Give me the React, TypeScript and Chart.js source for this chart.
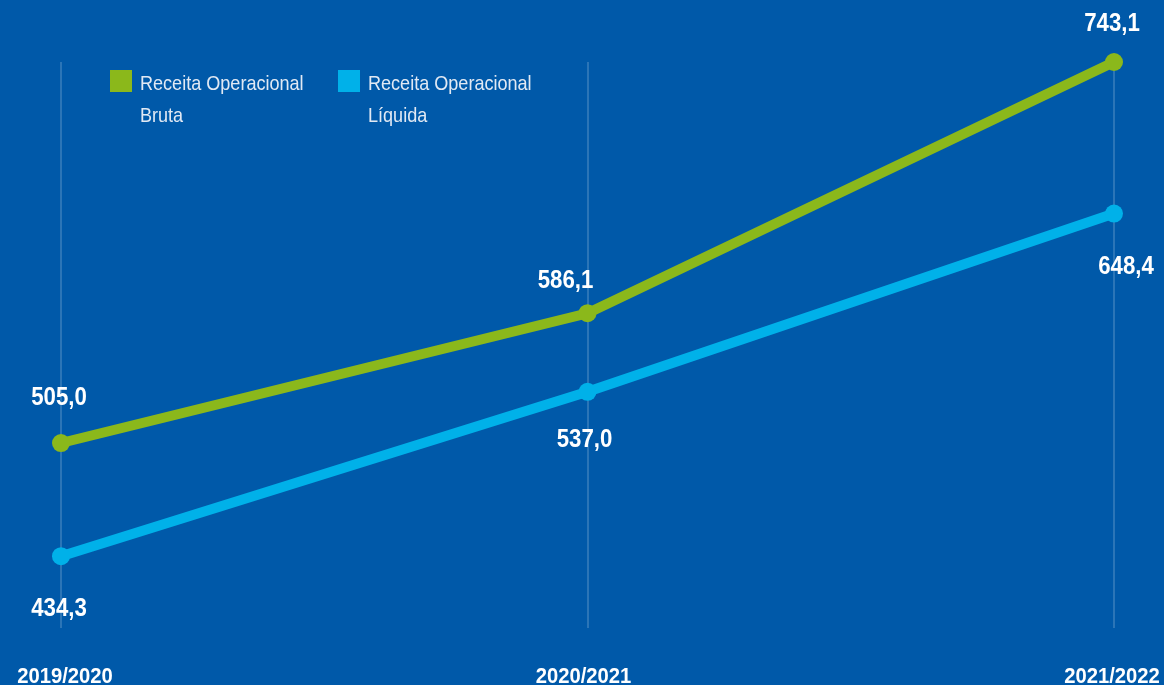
import React, { useEffect, useRef } from "react";
import { Chart, registerables } from "chart.js";

Chart.register(...registerables);

const categories = ["2019/2020", "2020/2021", "2021/2022"];
const brutaValues = [505.0, 586.1, 743.1];
const liquidaValues = [434.3, 537.0, 648.4];
const seriesNames = [["Receita Operacional", "Bruta"], ["Receita Operacional", "Líquida"]];

const BG = "#0059A9";
const GREEN = "#8BB81B";
const CYAN = "#00B1E9";
const FONT = "'Liberation Sans', Arial, sans-serif";

const fmt = (v: number) => v.toFixed(1).replace(".", ",");

// label offsets (style): green above, cyan below
const greenOffsets = [-45, -32, -38];
const greenDx = [-2, -22, -2];
const cyanOffsets = [53, 48, 54];
const cyanDx = [-2, -3, 12];
const catDx = [4, -4, -2];

function drawText(ctx: any, text: string, x: number, y: number, font: string, sx: number) {
  ctx.save();
  ctx.translate(x, y);
  ctx.scale(sx, 1);
  ctx.font = font;
  ctx.fillText(text, 0, 0);
  ctx.restore();
}

const overlayPlugin = {
  id: "overlay",
  beforeDatasetsDraw(chart: any) {
    const { ctx, chartArea, scales } = chart;
    ctx.save();
    ctx.strokeStyle = "rgba(255,255,255,0.17)";
    ctx.lineWidth = 2;
    categories.forEach((_, i) => {
      const x = Math.round(scales.x.getPixelForValue(i));
      ctx.beginPath();
      ctx.moveTo(x, chartArea.top);
      ctx.lineTo(x, chartArea.bottom);
      ctx.stroke();
    });
    ctx.restore();
  },
  afterDatasetsDraw(chart: any) {
    const { ctx, scales } = chart;
    ctx.save();
    ctx.fillStyle = "#FFFFFF";
    ctx.textAlign = "center";
    ctx.textBaseline = "middle";
    const lblFont = `bold 25px ${FONT}`;
    brutaValues.forEach((v, i) => {
      const x = scales.x.getPixelForValue(i) + greenDx[i];
      const y = scales.y.getPixelForValue(v) + greenOffsets[i];
      drawText(ctx, fmt(v), x, y, lblFont, 0.89);
    });
    liquidaValues.forEach((v, i) => {
      const x = scales.x.getPixelForValue(i) + cyanDx[i];
      const y = scales.y.getPixelForValue(v) + cyanOffsets[i];
      drawText(ctx, fmt(v), x, y, lblFont, 0.89);
    });
    // category labels
    ctx.textBaseline = "alphabetic";
    categories.forEach((c, i) => {
      const px = scales.x.getPixelForValue(i);
      drawText(ctx, c, px + catDx[i], 683, `bold 22px ${FONT}`, 0.92);
    });
    // legend
    const colors = [GREEN, CYAN];
    const lx = [110, 338];
    ctx.textAlign = "left";
    ctx.textBaseline = "middle";
    seriesNames.forEach((lines, i) => {
      ctx.fillStyle = colors[i];
      ctx.fillRect(lx[i], 70, 22, 22);
      ctx.fillStyle = "#E1E9F4";
      lines.forEach((t, j) => drawText(ctx, t, lx[i] + 30, 84 + j * 32, `21px ${FONT}`, 0.86));
    });
    ctx.restore();
  },
};

export default function App() {
  const ref = useRef<HTMLCanvasElement>(null);
  useEffect(() => {
    document.body.style.margin = "0";
    const chart = new Chart(ref.current!, {
      type: "line",
      data: {
        labels: categories,
        datasets: [
          {
            label: "Receita Operacional Bruta",
            data: brutaValues,
            borderColor: GREEN,
            backgroundColor: GREEN,
            borderWidth: 10,
            pointRadius: 9,
            pointHoverRadius: 9,
            pointBorderWidth: 0,
            tension: 0,
            clip: false,
          },
          {
            label: "Receita Operacional Líquida",
            data: liquidaValues,
            borderColor: CYAN,
            backgroundColor: CYAN,
            borderWidth: 10,
            pointRadius: 9,
            pointHoverRadius: 9,
            pointBorderWidth: 0,
            tension: 0,
            clip: false,
          },
        ],
      },
      options: {
        animation: false,
        responsive: false,
        maintainAspectRatio: false,
        layout: { padding: { left: 61, right: 50, top: 62, bottom: 57 } },
        plugins: { legend: { display: false }, tooltip: { enabled: false } },
        scales: {
          x: { display: false, offset: false },
          y: { display: false, min: 389.4, max: 743.1 },
        },
      },
      plugins: [overlayPlugin],
    });
    return () => chart.destroy();
  }, []);
  return (
    <div style={{ position: "absolute", left: 0, top: 0, width: 1164, height: 685, background: BG }}>
      <canvas ref={ref} width={1164} height={685} style={{ width: 1164, height: 685, display: "block" }} />
    </div>
  );
}
